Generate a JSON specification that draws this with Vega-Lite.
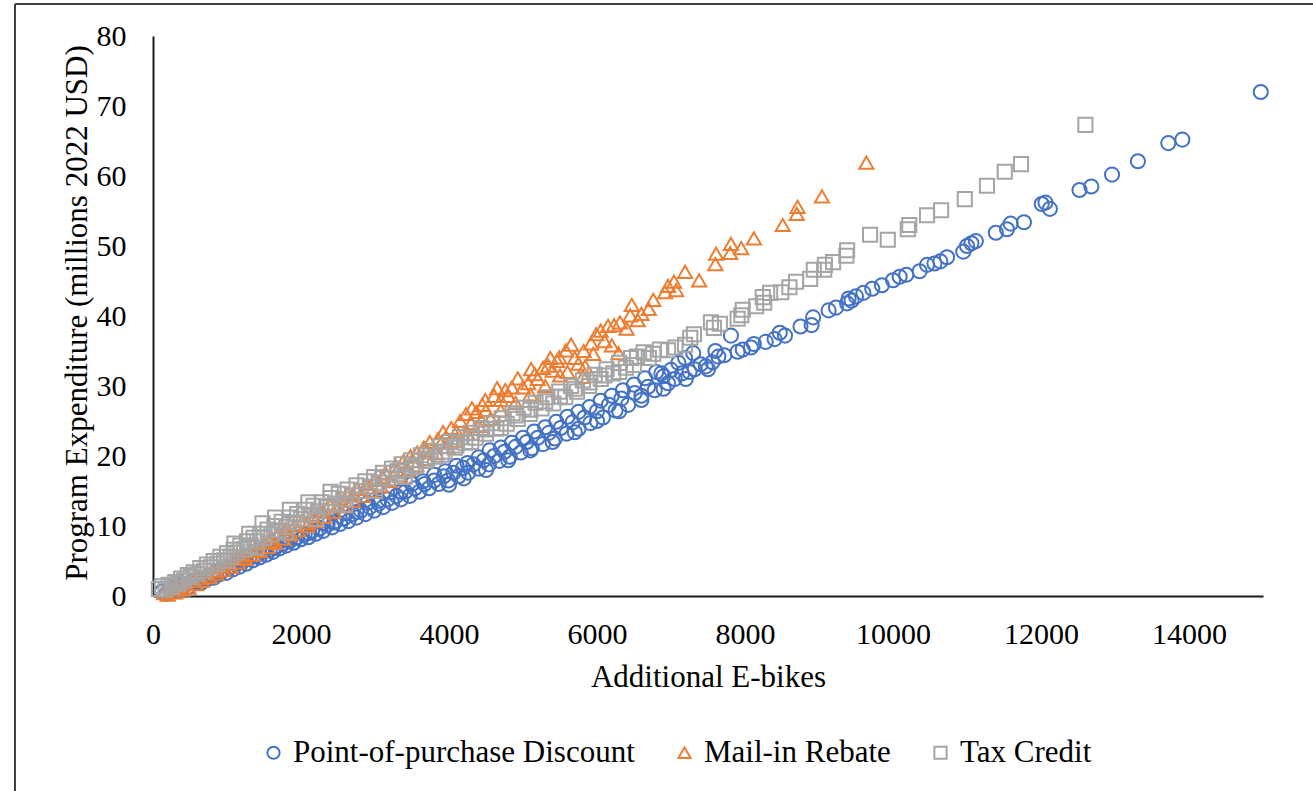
{
 "$schema": "https://vega.github.io/schema/vega-lite/v6.json",
 "autosize": {"type": "none"},
 "padding": {"left": 15, "top": 4, "right": 0, "bottom": 0},
 "width": 1298,
 "height": 787,
 "background": "white",
 "config": {"view": {"stroke": "#404040", "strokeWidth": 2, "strokeDash": [1298, 2085, 787, 0]}, "font": "Liberation Serif"},
 "datasets": {
  "pts": [
{"s":"D","x":120,"y":0.6},{"s":"D","x":180,"y":0.3},{"s":"D","x":230,"y":0.9},{"s":"D","x":260,"y":1.2},{"s":"D","x":310,"y":0.8},{"s":"D","x":350,"y":1.5},{"s":"D","x":390,"y":1.0},{"s":"D","x":430,"y":1.6},{"s":"D","x":480,"y":1.3},{"s":"D","x":520,"y":2.0},{"s":"D","x":560,"y":1.8},{"s":"D","x":600,"y":2.3},{"s":"D","x":650,"y":1.9},{"s":"D","x":690,"y":2.6},{"s":"D","x":730,"y":2.4},{"s":"D","x":780,"y":3.0},{"s":"D","x":820,"y":2.6},{"s":"D","x":860,"y":3.4},{"s":"D","x":900,"y":3.1},{"s":"D","x":950,"y":3.7},{"s":"D","x":990,"y":3.3},{"s":"D","x":1040,"y":4.1},{"s":"D","x":1080,"y":3.8},{"s":"D","x":1120,"y":4.6},{"s":"D","x":1170,"y":4.2},{"s":"D","x":1210,"y":5.0},{"s":"D","x":1260,"y":4.6},{"s":"D","x":1300,"y":5.4},{"s":"D","x":1350,"y":5.1},{"s":"D","x":1400,"y":5.8},{"s":"D","x":1440,"y":5.5},{"s":"D","x":1490,"y":6.3},{"s":"D","x":1530,"y":5.9},{"s":"D","x":1580,"y":6.6},{"s":"D","x":1620,"y":6.3},{"s":"D","x":1670,"y":7.1},{"s":"D","x":1710,"y":6.8},{"s":"D","x":1760,"y":7.5},{"s":"D","x":1800,"y":7.2},{"s":"D","x":1850,"y":7.9},{"s":"D","x":1900,"y":7.6},{"s":"D","x":1950,"y":8.4},{"s":"D","x":2000,"y":8.1},{"s":"D","x":2050,"y":8.8},{"s":"D","x":2100,"y":8.4},{"s":"D","x":2150,"y":9.3},{"s":"D","x":2200,"y":8.9},{"s":"D","x":2260,"y":9.7},{"s":"D","x":2300,"y":9.3},{"s":"D","x":2360,"y":10.2},{"s":"D","x":2420,"y":9.8},{"s":"D","x":2470,"y":10.7},{"s":"D","x":2530,"y":10.3},{"s":"D","x":2580,"y":11.1},{"s":"D","x":2640,"y":10.7},{"s":"D","x":2700,"y":11.7},{"s":"D","x":2750,"y":11.2},{"s":"D","x":2810,"y":12.2},{"s":"D","x":2870,"y":11.7},{"s":"D","x":2930,"y":12.7},{"s":"D","x":2990,"y":12.2},{"s":"D","x":3050,"y":13.2},{"s":"D","x":3110,"y":12.7},{"s":"D","x":3170,"y":13.8},{"s":"D","x":3230,"y":13.3},{"s":"D","x":3290,"y":14.3},{"s":"D","x":3350,"y":13.8},{"s":"D","x":3410,"y":14.9},{"s":"D","x":3470,"y":14.3},{"s":"D","x":3540,"y":15.4},{"s":"D","x":3600,"y":14.9},{"s":"D","x":3670,"y":16.0},{"s":"D","x":3730,"y":15.4},{"s":"D","x":3800,"y":16.5},{"s":"D","x":3860,"y":16.0},{"s":"D","x":3930,"y":17.1},{"s":"D","x":3990,"y":16.5},{"s":"D","x":4060,"y":17.6},{"s":"D","x":4130,"y":17.1},{"s":"D","x":4190,"y":18.3},{"s":"D","x":4260,"y":17.6},{"s":"D","x":4330,"y":18.8},{"s":"D","x":4400,"y":18.2},{"s":"D","x":4470,"y":19.4},{"s":"D","x":4540,"y":18.8},{"s":"D","x":4610,"y":20.0},{"s":"D","x":4680,"y":19.3},{"s":"D","x":4750,"y":20.6},{"s":"D","x":4820,"y":19.9},{"s":"D","x":4900,"y":21.3},{"s":"D","x":4970,"y":20.5},{"s":"D","x":5050,"y":22.0},{"s":"D","x":5120,"y":21.1},{"s":"D","x":5200,"y":22.6},{"s":"D","x":5270,"y":21.7},{"s":"D","x":5350,"y":23.3},{"s":"D","x":5430,"y":22.5},{"s":"D","x":5510,"y":24.0},{"s":"D","x":5590,"y":23.2},{"s":"D","x":5670,"y":24.8},{"s":"D","x":5750,"y":23.9},{"s":"D","x":5830,"y":25.5},{"s":"D","x":5910,"y":24.7},{"s":"D","x":6000,"y":26.4},{"s":"D","x":6080,"y":25.5},{"s":"D","x":6160,"y":27.3},{"s":"D","x":6250,"y":26.5},{"s":"D","x":6330,"y":28.2},{"s":"D","x":6420,"y":27.3},{"s":"D","x":6510,"y":29.0},{"s":"D","x":6600,"y":28.6},{"s":"D","x":6690,"y":29.9},{"s":"D","x":6780,"y":29.4},{"s":"D","x":6870,"y":31.8},{"s":"D","x":6960,"y":30.4},{"s":"D","x":7050,"y":31.0},{"s":"D","x":7150,"y":31.8},{"s":"D","x":7190,"y":34.0},{"s":"D","x":7250,"y":32.0},{"s":"D","x":7320,"y":32.4},{"s":"D","x":7400,"y":33.1},{"s":"D","x":7470,"y":32.8},{"s":"D","x":7560,"y":33.4},{"s":"D","x":7640,"y":34.2},{"s":"D","x":7720,"y":34.4},{"s":"D","x":7810,"y":37.2},{"s":"D","x":7900,"y":34.9},{"s":"D","x":7970,"y":35.2},{"s":"D","x":8080,"y":35.5},{"s":"D","x":8120,"y":36.0},{"s":"D","x":8280,"y":36.3},{"s":"D","x":8400,"y":36.7},{"s":"D","x":8470,"y":37.6},{"s":"D","x":8540,"y":37.2},{"s":"D","x":8750,"y":38.5},{"s":"D","x":8900,"y":38.7},{"s":"D","x":8920,"y":39.8},{"s":"D","x":9130,"y":40.8},{"s":"D","x":9230,"y":41.2},{"s":"D","x":9380,"y":41.8},{"s":"D","x":9400,"y":42.5},{"s":"D","x":9440,"y":42.2},{"s":"D","x":9500,"y":42.8},{"s":"D","x":9600,"y":43.3},{"s":"D","x":9720,"y":43.9},{"s":"D","x":9850,"y":44.4},{"s":"D","x":10000,"y":45.1},{"s":"D","x":10090,"y":45.6},{"s":"D","x":10180,"y":45.9},{"s":"D","x":10360,"y":46.4},{"s":"D","x":10460,"y":47.3},{"s":"D","x":10560,"y":47.5},{"s":"D","x":10640,"y":47.8},{"s":"D","x":10730,"y":48.4},{"s":"D","x":10950,"y":49.2},{"s":"D","x":11000,"y":50.0},{"s":"D","x":11060,"y":50.4},{"s":"D","x":11120,"y":50.7},{"s":"D","x":11390,"y":51.9},{"s":"D","x":11540,"y":52.4},{"s":"D","x":11590,"y":53.2},{"s":"D","x":11770,"y":53.4},{"s":"D","x":12010,"y":56.0},{"s":"D","x":12060,"y":56.2},{"s":"D","x":12120,"y":55.3},{"s":"D","x":12520,"y":58.0},{"s":"D","x":12680,"y":58.5},{"s":"D","x":12960,"y":60.2},{"s":"D","x":13310,"y":62.1},{"s":"D","x":13720,"y":64.7},{"s":"D","x":13910,"y":65.2},{"s":"D","x":14970,"y":72.0},
{"s":"D","x":1500,"y":6.7},{"s":"D","x":1800,"y":8.0},{"s":"D","x":2300,"y":10.4},{"s":"D","x":2600,"y":11.8},{"s":"D","x":2900,"y":13.3},{"s":"D","x":3200,"y":14.8},{"s":"D","x":3500,"y":16.0},{"s":"D","x":3800,"y":17.3},{"s":"D","x":4100,"y":18.6},{"s":"D","x":4400,"y":19.8},{"s":"D","x":4550,"y":20.8},{"s":"D","x":4700,"y":21.2},{"s":"D","x":5000,"y":22.6},{"s":"D","x":5150,"y":23.5},{"s":"D","x":5300,"y":24.1},{"s":"D","x":5600,"y":25.6},{"s":"D","x":5750,"y":26.3},{"s":"D","x":5900,"y":27.0},{"s":"D","x":6200,"y":28.6},{"s":"D","x":6350,"y":29.4},{"s":"D","x":6500,"y":30.2},{"s":"D","x":6650,"y":31.1},{"s":"D","x":6800,"y":32.0},{"s":"D","x":7000,"y":32.3},{"s":"D","x":7300,"y":34.7},
{"s":"D","x":1200,"y":4.9},{"s":"D","x":1650,"y":6.9},{"s":"D","x":2100,"y":9.0},{"s":"D","x":2450,"y":10.5},{"s":"D","x":2750,"y":12.0},{"s":"D","x":3050,"y":13.6},{"s":"D","x":3350,"y":14.9},{"s":"D","x":3650,"y":16.4},{"s":"D","x":3950,"y":17.8},{"s":"D","x":4250,"y":19.0},{"s":"D","x":4850,"y":21.9},{"s":"D","x":5450,"y":24.9},{"s":"D","x":6050,"y":27.9},{"s":"D","x":6900,"y":31.4},{"s":"D","x":7100,"y":33.3},{"s":"D","x":7600,"y":35.0},{"s":"D","x":4000,"y":15.9},{"s":"D","x":4200,"y":16.8},{"s":"D","x":4500,"y":18.0},{"s":"D","x":4800,"y":19.4},{"s":"D","x":5100,"y":20.8},{"s":"D","x":5400,"y":22.0},{"s":"D","x":5700,"y":23.4},{"s":"D","x":6000,"y":25.0},{"s":"D","x":6300,"y":26.4},{"s":"D","x":6600,"y":28.0},{"s":"D","x":6900,"y":29.6},{"s":"D","x":7200,"y":31.0},{"s":"D","x":7500,"y":32.4},
{"s":"R","x":150,"y":0.4},{"s":"R","x":200,"y":0.2},{"s":"R","x":260,"y":0.9},{"s":"R","x":300,"y":0.5},{"s":"R","x":350,"y":1.3},{"s":"R","x":400,"y":0.9},{"s":"R","x":450,"y":1.7},{"s":"R","x":480,"y":1.2},{"s":"R","x":530,"y":2.2},{"s":"R","x":580,"y":1.7},{"s":"R","x":620,"y":2.6},{"s":"R","x":660,"y":2.2},{"s":"R","x":720,"y":3.1},{"s":"R","x":760,"y":2.7},{"s":"R","x":810,"y":3.6},{"s":"R","x":860,"y":3.2},{"s":"R","x":900,"y":4.2},{"s":"R","x":950,"y":3.7},{"s":"R","x":1000,"y":4.6},{"s":"R","x":1050,"y":4.2},{"s":"R","x":1100,"y":5.3},{"s":"R","x":1150,"y":4.8},{"s":"R","x":1200,"y":5.8},{"s":"R","x":1250,"y":5.3},{"s":"R","x":1300,"y":6.4},{"s":"R","x":1350,"y":5.9},{"s":"R","x":1400,"y":6.9},{"s":"R","x":1450,"y":6.4},{"s":"R","x":1500,"y":7.6},{"s":"R","x":1550,"y":7.0},{"s":"R","x":1600,"y":8.3},{"s":"R","x":1650,"y":7.6},{"s":"R","x":1700,"y":8.9},{"s":"R","x":1760,"y":8.2},{"s":"R","x":1800,"y":9.6},{"s":"R","x":1860,"y":8.8},{"s":"R","x":1910,"y":10.1},{"s":"R","x":1960,"y":9.4},{"s":"R","x":2020,"y":10.8},{"s":"R","x":2080,"y":10.0},{"s":"R","x":2140,"y":11.6},{"s":"R","x":2200,"y":10.7},{"s":"R","x":2250,"y":12.2},{"s":"R","x":2310,"y":11.3},{"s":"R","x":2380,"y":13.1},{"s":"R","x":2440,"y":12.0},{"s":"R","x":2520,"y":13.9},{"s":"R","x":2580,"y":12.8},{"s":"R","x":2630,"y":14.6},{"s":"R","x":2700,"y":13.6},{"s":"R","x":2760,"y":15.3},{"s":"R","x":2830,"y":14.3},{"s":"R","x":2890,"y":16.0},{"s":"R","x":2950,"y":15.0},{"s":"R","x":3000,"y":16.6},{"s":"R","x":3080,"y":15.7},{"s":"R","x":3140,"y":17.6},{"s":"R","x":3200,"y":16.4},{"s":"R","x":3280,"y":18.6},{"s":"R","x":3340,"y":17.2},{"s":"R","x":3380,"y":19.2},{"s":"R","x":3450,"y":18.0},{"s":"R","x":3480,"y":20.0},{"s":"R","x":3560,"y":18.7},{"s":"R","x":3570,"y":20.5},{"s":"R","x":3660,"y":21.2},{"s":"R","x":3700,"y":19.6},{"s":"R","x":3740,"y":22.0},{"s":"R","x":3830,"y":20.4},{"s":"R","x":3850,"y":22.4},{"s":"R","x":3920,"y":23.4},{"s":"R","x":3980,"y":21.3},{"s":"R","x":4030,"y":24.0},{"s":"R","x":4100,"y":22.2},{"s":"R","x":4150,"y":25.0},{"s":"R","x":4230,"y":26.0},{"s":"R","x":4250,"y":23.2},{"s":"R","x":4310,"y":26.8},{"s":"R","x":4370,"y":26.3},{"s":"R","x":4400,"y":24.3},{"s":"R","x":4450,"y":27.3},{"s":"R","x":4490,"y":28.0},{"s":"R","x":4560,"y":25.3},{"s":"R","x":4610,"y":28.6},{"s":"R","x":4650,"y":29.7},{"s":"R","x":4700,"y":26.5},{"s":"R","x":4760,"y":29.4},{"s":"R","x":4850,"y":29.8},{"s":"R","x":4900,"y":27.6},{"s":"R","x":4930,"y":31.1},{"s":"R","x":5070,"y":30.4},{"s":"R","x":5100,"y":28.8},{"s":"R","x":5110,"y":32.4},{"s":"R","x":5160,"y":31.7},{"s":"R","x":5270,"y":32.6},{"s":"R","x":5300,"y":30.0},{"s":"R","x":5340,"y":32.9},{"s":"R","x":5370,"y":34.0},{"s":"R","x":5460,"y":33.6},{"s":"R","x":5490,"y":34.1},{"s":"R","x":5580,"y":35.1},{"s":"R","x":5600,"y":32.0},{"s":"R","x":5650,"y":35.9},{"s":"R","x":5810,"y":31.3},{"s":"R","x":5820,"y":35.0},{"s":"R","x":5840,"y":32.8},{"s":"R","x":5920,"y":36.1},{"s":"R","x":5990,"y":37.4},{"s":"R","x":6050,"y":37.9},{"s":"R","x":6150,"y":38.6},{"s":"R","x":6230,"y":38.7},{"s":"R","x":6290,"y":34.7},{"s":"R","x":6310,"y":39.1},{"s":"R","x":6450,"y":40.1},{"s":"R","x":6470,"y":41.6},{"s":"R","x":6600,"y":40.3},{"s":"R","x":6760,"y":42.3},{"s":"R","x":6920,"y":43.4},{"s":"R","x":6960,"y":44.3},{"s":"R","x":7040,"y":44.9},{"s":"R","x":7070,"y":43.7},{"s":"R","x":7190,"y":46.3},{"s":"R","x":7380,"y":45.1},{"s":"R","x":7600,"y":47.4},{"s":"R","x":7610,"y":48.9},{"s":"R","x":7800,"y":49.0},{"s":"R","x":7810,"y":50.3},{"s":"R","x":7950,"y":49.7},{"s":"R","x":8120,"y":51.1},{"s":"R","x":8510,"y":53.0},{"s":"R","x":8700,"y":54.6},{"s":"R","x":8710,"y":55.6},{"s":"R","x":9040,"y":57.1},{"s":"R","x":9640,"y":61.9},
{"s":"R","x":1200,"y":5.4},{"s":"R","x":1400,"y":6.6},{"s":"R","x":1600,"y":7.9},{"s":"R","x":1800,"y":9.1},{"s":"R","x":2100,"y":10.4},{"s":"R","x":2300,"y":12.0},{"s":"R","x":2500,"y":12.9},{"s":"R","x":2700,"y":14.5},{"s":"R","x":2900,"y":15.5},{"s":"R","x":3100,"y":17.0},{"s":"R","x":3300,"y":18.0},{"s":"R","x":3500,"y":19.3},{"s":"R","x":3700,"y":20.8},{"s":"R","x":3900,"y":22.0},{"s":"R","x":4100,"y":23.5},{"s":"R","x":4300,"y":24.7},{"s":"R","x":4500,"y":26.5},{"s":"R","x":4700,"y":28.0},{"s":"R","x":4800,"y":28.6},{"s":"R","x":5000,"y":29.8},{"s":"R","x":5200,"y":31.0},{"s":"R","x":5400,"y":32.2},{"s":"R","x":5500,"y":31.5},{"s":"R","x":5700,"y":34.0},{"s":"R","x":5750,"y":33.2},{"s":"R","x":5950,"y":34.6},{"s":"R","x":6100,"y":36.4},{"s":"R","x":6200,"y":35.8},{"s":"R","x":6400,"y":38.2},{"s":"R","x":6550,"y":39.4},{"s":"R","x":6700,"y":41.0},
{"s":"T","x":80,"y":1.0},{"s":"T","x":120,"y":1.4},{"s":"T","x":170,"y":0.9},{"s":"T","x":210,"y":1.6},{"s":"T","x":250,"y":1.3},{"s":"T","x":300,"y":2.0},{"s":"T","x":340,"y":1.7},{"s":"T","x":380,"y":2.5},{"s":"T","x":420,"y":2.2},{"s":"T","x":470,"y":3.0},{"s":"T","x":510,"y":2.7},{"s":"T","x":550,"y":3.4},{"s":"T","x":600,"y":3.1},{"s":"T","x":640,"y":4.0},{"s":"T","x":690,"y":3.6},{"s":"T","x":730,"y":4.5},{"s":"T","x":780,"y":4.1},{"s":"T","x":820,"y":5.0},{"s":"T","x":870,"y":4.6},{"s":"T","x":910,"y":5.6},{"s":"T","x":960,"y":5.1},{"s":"T","x":1000,"y":6.1},{"s":"T","x":1050,"y":5.6},{"s":"T","x":1090,"y":6.6},{"s":"T","x":1140,"y":6.2},{"s":"T","x":1180,"y":7.2},{"s":"T","x":1230,"y":6.7},{"s":"T","x":1270,"y":7.8},{"s":"T","x":1320,"y":7.2},{"s":"T","x":1360,"y":8.3},{"s":"T","x":1410,"y":7.8},{"s":"T","x":1450,"y":8.9},{"s":"T","x":1500,"y":8.3},{"s":"T","x":1550,"y":9.5},{"s":"T","x":1600,"y":8.8},{"s":"T","x":1640,"y":10.0},{"s":"T","x":1700,"y":9.4},{"s":"T","x":1740,"y":10.6},{"s":"T","x":1800,"y":9.9},{"s":"T","x":1850,"y":11.2},{"s":"T","x":1900,"y":10.5},{"s":"T","x":1950,"y":11.7},{"s":"T","x":2000,"y":11.0},{"s":"T","x":2060,"y":12.3},{"s":"T","x":2120,"y":11.6},{"s":"T","x":2170,"y":12.9},{"s":"T","x":2230,"y":12.1},{"s":"T","x":2280,"y":13.4},{"s":"T","x":2340,"y":12.7},{"s":"T","x":2400,"y":14.0},{"s":"T","x":2460,"y":13.2},{"s":"T","x":2510,"y":14.6},{"s":"T","x":2570,"y":13.8},{"s":"T","x":2630,"y":15.2},{"s":"T","x":2690,"y":14.4},{"s":"T","x":2750,"y":15.8},{"s":"T","x":2810,"y":15.0},{"s":"T","x":2870,"y":16.4},{"s":"T","x":2930,"y":15.6},{"s":"T","x":2990,"y":17.0},{"s":"T","x":3050,"y":16.2},{"s":"T","x":3110,"y":17.6},{"s":"T","x":3170,"y":16.8},{"s":"T","x":3230,"y":18.2},{"s":"T","x":3300,"y":17.4},{"s":"T","x":3360,"y":18.8},{"s":"T","x":3420,"y":18.0},{"s":"T","x":3490,"y":19.4},{"s":"T","x":3550,"y":18.7},{"s":"T","x":3620,"y":20.1},{"s":"T","x":3680,"y":19.3},{"s":"T","x":3750,"y":20.7},{"s":"T","x":3810,"y":19.9},{"s":"T","x":3880,"y":21.4},{"s":"T","x":3940,"y":20.6},{"s":"T","x":4010,"y":22.0},{"s":"T","x":4080,"y":21.2},{"s":"T","x":4150,"y":22.7},{"s":"T","x":4220,"y":21.9},{"s":"T","x":4290,"y":23.3},{"s":"T","x":4360,"y":22.6},{"s":"T","x":4430,"y":24.0},{"s":"T","x":4500,"y":23.2},{"s":"T","x":4570,"y":24.7},{"s":"T","x":4640,"y":23.9},{"s":"T","x":4710,"y":25.4},{"s":"T","x":4780,"y":24.6},{"s":"T","x":4860,"y":26.1},{"s":"T","x":4930,"y":25.3},{"s":"T","x":5010,"y":26.9},{"s":"T","x":5090,"y":26.0},{"s":"T","x":5170,"y":27.6},{"s":"T","x":5250,"y":26.8},{"s":"T","x":5330,"y":28.4},{"s":"T","x":5410,"y":27.5},{"s":"T","x":5490,"y":29.2},{"s":"T","x":5570,"y":28.4},{"s":"T","x":5650,"y":30.0},{"s":"T","x":5730,"y":29.2},{"s":"T","x":5810,"y":30.8},{"s":"T","x":5890,"y":30.0},{"s":"T","x":5970,"y":31.6},{"s":"T","x":6050,"y":31.0},{"s":"T","x":6130,"y":32.4},{"s":"T","x":6220,"y":31.8},{"s":"T","x":6300,"y":33.3},{"s":"T","x":6390,"y":32.6},{"s":"T","x":6460,"y":34.0},{"s":"T","x":6540,"y":34.2},{"s":"T","x":6630,"y":34.8},{"s":"T","x":6760,"y":34.6},{"s":"T","x":6850,"y":35.2},{"s":"T","x":6960,"y":35.1},{"s":"T","x":7060,"y":35.5},{"s":"T","x":7190,"y":35.9},{"s":"T","x":7260,"y":36.9},{"s":"T","x":7310,"y":37.4},{"s":"T","x":7540,"y":39.1},{"s":"T","x":7580,"y":38.3},{"s":"T","x":7660,"y":38.9},{"s":"T","x":7900,"y":39.6},{"s":"T","x":7950,"y":40.1},{"s":"T","x":7970,"y":40.9},{"s":"T","x":8150,"y":41.4},{"s":"T","x":8240,"y":42.7},{"s":"T","x":8260,"y":41.9},{"s":"T","x":8340,"y":43.3},{"s":"T","x":8490,"y":43.4},{"s":"T","x":8600,"y":44.1},{"s":"T","x":8690,"y":44.9},{"s":"T","x":8880,"y":45.3},{"s":"T","x":8930,"y":46.6},{"s":"T","x":9070,"y":46.6},{"s":"T","x":9080,"y":47.3},{"s":"T","x":9190,"y":47.7},{"s":"T","x":9370,"y":48.6},{"s":"T","x":9380,"y":49.4},{"s":"T","x":9690,"y":51.6},{"s":"T","x":9930,"y":50.9},{"s":"T","x":10200,"y":52.4},{"s":"T","x":10220,"y":53.0},{"s":"T","x":10460,"y":54.4},{"s":"T","x":10650,"y":55.1},{"s":"T","x":10970,"y":56.7},{"s":"T","x":11270,"y":58.6},{"s":"T","x":11510,"y":60.6},{"s":"T","x":11730,"y":61.7},{"s":"T","x":12600,"y":67.3},
{"s":"T","x":1100,"y":7.5},{"s":"T","x":1300,"y":8.9},{"s":"T","x":1480,"y":10.4},{"s":"T","x":1650,"y":11.2},{"s":"T","x":1850,"y":12.3},{"s":"T","x":2100,"y":13.4},{"s":"T","x":2400,"y":14.9},{"s":"T","x":1000,"y":5.0},{"s":"T","x":1400,"y":6.9},{"s":"T","x":1800,"y":9.1},{"s":"T","x":2200,"y":11.0},{"s":"T","x":2600,"y":13.0},{"s":"T","x":3000,"y":15.0},{"s":"T","x":3400,"y":17.0},
{"s":"T","x":3100,"y":16.8},{"s":"T","x":3500,"y":18.4},{"s":"T","x":3900,"y":20.2},{"s":"T","x":4300,"y":22.0},{"s":"T","x":4700,"y":24.0},{"s":"T","x":5100,"y":26.6},{"s":"T","x":5500,"y":28.5},{"s":"T","x":5900,"y":30.5},{"s":"T","x":6300,"y":32.0},{"s":"T","x":6700,"y":34.0},{"s":"T","x":3300,"y":17.8},{"s":"T","x":3700,"y":19.6},{"s":"T","x":4100,"y":21.5},{"s":"T","x":4500,"y":23.8},{"s":"T","x":4900,"y":25.8},{"s":"T","x":5300,"y":27.8},{"s":"T","x":5700,"y":29.6},{"s":"T","x":6100,"y":31.5},{"s":"T","x":6500,"y":33.0}
  ]
 },
 "data": {"name": "pts"},
 "mark": {"type": "point", "filled": false, "strokeWidth": 2, "size": 200, "opacity": 1},
 "encoding": {
  "x": {"field": "x", "type": "quantitative",
   "scale": {"domain": [0, 15000], "range": [138, 1248], "nice": false, "zero": false},
   "axis": {"orient": "bottom", "offset": -195, "values": [0, 2000, 4000, 6000, 8000, 10000, 12000, 14000], "format": "d",
    "grid": false, "ticks": false, "tickSize": 0, "domainColor": "#1a1a1a", "domainWidth": 2,
    "labelFont": "Liberation Serif", "labelFontSize": 30, "labelColor": "#000000", "labelPadding": 23, "labelFlush": false, "labelOverlap": false,
    "title": "Additional E-bikes", "titleFont": "Liberation Serif", "titleFontSize": 31, "titleFontWeight": "normal", "titleColor": "#000000",
    "titleBaseline": "alphabetic", "titleY": 90}},
  "y": {"field": "y", "type": "quantitative",
   "scale": {"domain": [0, 80], "range": [592, 32], "nice": false, "zero": false},
   "axis": {"orient": "left", "offset": -138, "values": [0, 10, 20, 30, 40, 50, 60, 70, 80],
    "grid": false, "ticks": false, "tickSize": 0, "domainColor": "#1a1a1a", "domainWidth": 2,
    "labelFont": "Liberation Serif", "labelFontSize": 30, "labelColor": "#000000", "labelPadding": 27, "labelFlush": false, "labelOverlap": false,
    "title": "Program Expenditure (millions 2022 USD)", "titleFont": "Liberation Serif", "titleFontSize": 31, "titleFontWeight": "normal", "titleColor": "#000000",
    "titleAngle": 270, "titleBaseline": "alphabetic", "titleX": -67, "titleY": 308.5}},
  "color": {"field": "s", "type": "nominal",
   "scale": {"domain": ["D", "R", "T"], "range": ["#4472C4", "#ED7D31", "#A5A5A5"]},
   "legend": {"orient": "none", "legendX": 243, "legendY": 733, "direction": "horizontal", "title": null,
    "labelFont": "Liberation Serif", "labelFontSize": 31, "labelColor": "#000000", "labelLimit": 600,
    "labelExpr": "datum.label == 'D' ? 'Point-of-purchase Discount' : datum.label == 'R' ? 'Mail-in Rebate' : 'Tax Credit'",
    "symbolSize": 150, "symbolStrokeWidth": 2, "labelOffset": 4, "columnPadding": 34, "padding": 0}},
  "shape": {"field": "s", "type": "nominal",
   "scale": {"domain": ["D", "R", "T"], "range": ["circle", "triangle-up", "square"]}}
 }
}
